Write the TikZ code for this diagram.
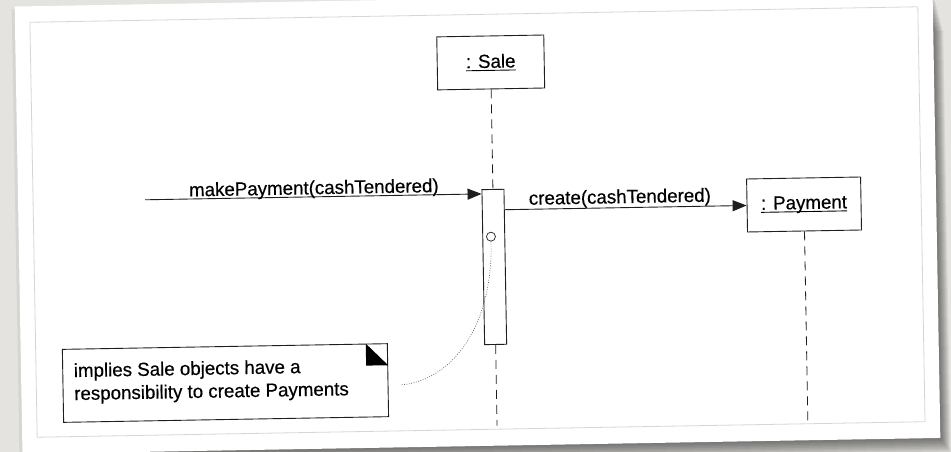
\documentclass[tikz,border=0pt]{standalone}
\usepackage{fontspec}
\setmainfont[FakeStretch=0.985,FakeBold=0.4]{Liberation Sans}
\usetikzlibrary{arrows.meta}
\definecolor{bg}{RGB}{228,227,223}
\definecolor{framegray}{RGB}{214,214,214}
\definecolor{ink}{RGB}{30,30,30}
\newcommand\ulbox[1]{\setbox0\hbox{#1}\rlap{\rule[-3pt]{\wd0}{0.9pt}}\box0}
\newcommand\lblfont{\fontsize{19}{23}\selectfont}
\begin{document}
\begin{tikzpicture}[x=1pt,y=1pt,
  objbox/.style={draw=ink, line width=0.9pt, fill=white, minimum height=53pt, inner sep=0pt, font=\lblfont},
  lbl/.style={font=\lblfont, inner sep=0pt, text=black},
  lifeline/.style={draw=ink, line width=0.8pt, dash pattern=on 9pt off 6pt},
  msg/.style={draw=ink, line width=0.9pt, -{Triangle[length=14pt,width=11pt]}},
  actbar/.style={draw=ink, line width=0.9pt, fill=white, minimum width=22pt, inner sep=0pt},
  notebox/.style={draw=ink, line width=0.9pt, fill=white, minimum width=325pt, minimum height=73pt, inner sep=0pt},
  anchorline/.style={draw=ink!70, line width=0.7pt, dash pattern=on 0.8pt off 1.6pt},
]
\useasboundingbox (0,0) rectangle (951,452);
\fill[bg] (0,0) rectangle (951,452);
\begin{scope}[shift={(477.5,230)}, rotate=1, every node/.append style={transform shape}]
  % paper shadow
  \foreach \k in {1,...,10} {
    \fill[black, opacity=0.06] (-459+\k*2.8, -224-\k*1.5) rectangle (459+\k*1.0, 223.5-\k*4);
  }
  \fill[black, opacity=0.06] (-462,-222) rectangle (-455,221);
  \fill[white] (-459,-224) rectangle (459,223.5);
  \draw[framegray, line width=0.8pt] (-444,-207.5) rectangle (444,207.5);

  % objects
  \node[objbox, minimum width=107pt] (sale) at (16,159.3) {\ulbox{: Sale}};
  \node[objbox, minimum width=114pt] (payment) at (326.8,11.8) {\ulbox{: Payment}};

  % activation bar
  \node[actbar, minimum height=155pt, anchor=north] (bar) at (16,32.7) {};

  % lifelines
  \coordinate (saleend) at (16,-204);
  \coordinate (payend) at (326.8,-204);
  \draw[lifeline] (sale.south) -- (bar.north);
  \draw[lifeline] (bar.south) -- (saleend);
  \draw[lifeline] (payment.south) -- (payend);

  % messages
  \coordinate (mpstart) at (-332,28);
  \draw[msg] (mpstart) -- (mpstart -| bar.west);
  \node[lbl, anchor=base] (mplbl) at (-163,30.6) {makePayment(cashTendered)};
  \draw[msg] (payment.west -| bar.east) -- (payment.west);
  \node[lbl, anchor=base] (crlbl) at (142.8,16.3) {create(cashTendered)};

  % note
  \node[notebox] (note) at (-254.8,-156.6) {};
  \fill[black] ([xshift=-22pt]note.north east) -- ([yshift=-22pt]note.north east) -- ([xshift=-22pt,yshift=-22pt]note.north east) -- cycle;
  \node[lbl, anchor=base west] (nl1) at (-406.4,-148) {implies Sale objects have a};
  \node[lbl, anchor=base west] (nl2) at (-406.4,-171) {responsibility to create Payments};

  % anchor circle and dotted connector
  \node[circle, draw=ink, line width=0.7pt, fill=white, minimum size=9pt, inner sep=0pt] (circ) at (13.2,-14.9) {};
  \coordinate (noteend) at (-80.3,-161.7);
  \draw[anchorline] (circ.south) .. controls (14,-100) and (-25,-158) .. (noteend);
\end{scope}
\end{tikzpicture}
\end{document}
